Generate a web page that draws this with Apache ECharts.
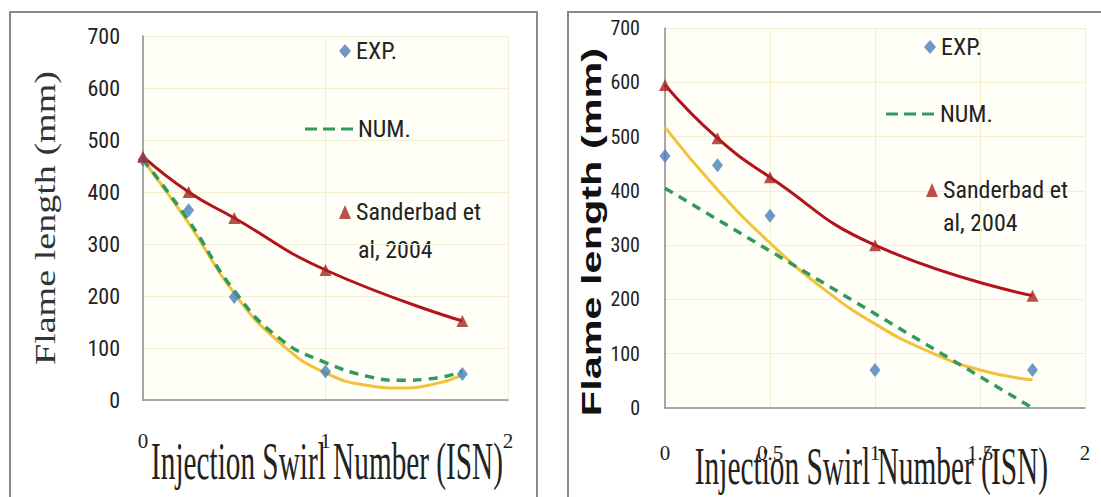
<!DOCTYPE html>
<html>
<head>
<meta charset="utf-8">
<script src="https://cdn.jsdelivr.net/npm/echarts@6/dist/echarts.min.js"></script>
<style>
html,body{margin:0;padding:0;background:#fff;}
#chart{width:1101px;height:497px;}
</style>
</head>
<body>
<div id="chart"></div>
<script>
// ---- data ----
const yTicks = [0, 100, 200, 300, 400, 500, 600, 700];
const leftXTicks = [0, 1, 2];
const rightXTicks = [0, 0.5, 1, 1.5, 2];

const leftX = [0, 0.25, 0.5, 1, 1.75];
const leftExp = [462, 365, 198, 55, 50];
const leftSand = [468, 400, 350, 250, 152];
const leftNumX = [0, 0.25, 0.5, 0.75, 1, 1.25, 1.4, 1.6, 1.75];
const leftNum = [462, 345, 210, 118, 72, 44, 38, 42, 55];
const leftFitX = [0, 0.25, 0.5, 0.75, 1, 1.25, 1.4, 1.6, 1.75];
const leftFit = [462, 340, 205, 110, 52, 27, 23, 31, 48];

const rightX = [0, 0.25, 0.5, 1, 1.75];
const rightExp = [464, 447, 354, 70, 70];
const rightSand = [595, 497, 425, 300, 207];
const rightNumX = [0, 1.75];
const rightNum = [405, 0];
const rightFitX = [0, 0.25, 0.5, 0.75, 1, 1.25, 1.5, 1.75];
const rightFit = [517, 402, 304, 221, 155, 105, 70, 52];

const xTitle = 'Injection Swirl Number (ISN)';
const yTitle = 'Flame length (mm)';
const legendNames = ['EXP.', 'NUM.', 'Sanderbad et al, 2004'];

// ---- styles ----
const C_BLUE = '#4a7ebb', C_TRI = '#a8261b', C_RED = '#b3131d', C_YEL = '#f2c23a', C_GRN = '#2f9a5c';
const NARROW = "'Liberation Sans Narrow', 'Roboto Condensed', 'Open Sans', sans-serif";
const SERIF = "'Liberation Serif', 'DejaVu Serif', serif";
const DASH_ICON = 'path://M0,0h12v3h-12z M18,0h12v3h-12z M36,0h12v3h-12z';
const zip = (xs, ys) => xs.map((x, i) => [x, ys[i]]);

function xAxisCfg(grid, ticks, margin) {
  return {
    type: 'value', gridIndex: grid, min: ticks[0], max: ticks[ticks.length - 1],
    interval: ticks[1] - ticks[0],
    axisLine: { show: true, onZero: false, lineStyle: { color: '#8c8c8c', width: 1.5 } },
    axisTick: { show: false },
    axisLabel: { margin: margin, fontFamily: SERIF, fontSize: 21, color: '#222' },
    splitLine: { show: true, lineStyle: { color: '#f1f1d2', width: 1 } }
  };
}
function yAxisCfg(grid, size, margin) {
  return {
    type: 'value', gridIndex: grid, min: yTicks[0], max: yTicks[yTicks.length - 1],
    interval: yTicks[1] - yTicks[0],
    axisLine: { show: true, onZero: false, lineStyle: { color: '#8c8c8c', width: 1.5 } },
    axisTick: { show: false },
    axisLabel: { margin: margin, fontFamily: NARROW, fontSize: size, color: '#222' },
    splitLine: { show: true, lineStyle: { color: '#f1f1d2', width: 1 } }
  };
}
function fitLine(xi, yi, data, color) {
  return { type: 'line', xAxisIndex: xi, yAxisIndex: yi, data: data, smooth: true, symbol: 'none',
    lineStyle: { color: color, width: 3 }, itemStyle: { color: color }, silent: true, z: 2 };
}
function numLine(xi, yi, data, smooth) {
  return { name: legendNames[1], type: 'line', xAxisIndex: xi, yAxisIndex: yi, data: data, smooth: smooth,
    symbol: 'none', lineStyle: { color: C_GRN, width: 3.5, type: [9, 7] }, itemStyle: { color: C_GRN }, z: 3 };
}
function expPts(xi, yi, data) {
  return { name: legendNames[0], type: 'scatter', xAxisIndex: xi, yAxisIndex: yi, data: data,
    symbol: 'diamond', symbolSize: [11, 14], itemStyle: { color: C_BLUE }, z: 4 };
}
function sandPts(xi, yi, data) {
  return { name: legendNames[2], type: 'scatter', xAxisIndex: xi, yAxisIndex: yi, data: data,
    symbol: 'triangle', symbolSize: [12, 12], itemStyle: { color: C_TRI }, z: 4 };
}
function legend(name, left, cy, w, h, icon) {
  const item = icon ? { name: name, icon: icon, itemStyle: { color: C_GRN } } : name;
  return {
    data: [item], left: left, top: cy - 12, padding: 0, itemWidth: w, itemHeight: h,
    selectedMode: false,
    formatter: n => n === legendNames[2] ? 'Sanderbad et' : n,
    textStyle: { fontFamily: NARROW, fontSize: 24, color: '#222', lineHeight: 24 }
  };
}

const chart = echarts.init(document.getElementById('chart'), null, { renderer: 'svg' });
chart.setOption({
  animation: false,
  backgroundColor: '#fff',
  grid: [
    { left: 143, top: 36, width: 365, height: 364, show: true, backgroundColor: '#fffff7', borderWidth: 0 },
    { left: 665, top: 28, width: 420, height: 380, show: true, backgroundColor: '#fffff7', borderWidth: 0 }
  ],
  xAxis: [xAxisCfg(0, leftXTicks, 30), xAxisCfg(1, rightXTicks, 34)],
  yAxis: [yAxisCfg(0, 22, 23), yAxisCfg(1, 20, 25)],
  legend: [
    legend(legendNames[0], 339, 51, 12, 14),
    legend(legendNames[1], 305, 129, 48, 3, DASH_ICON),
    legend(legendNames[2], 339, 212, 12, 14),
    legend(legendNames[0], 924, 47, 12, 14),
    legend(legendNames[1], 886, 114, 50, 3, DASH_ICON),
    legend(legendNames[2], 926, 190, 12, 14)
  ],
  series: [
    fitLine(0, 0, zip(leftX, leftSand), C_RED),
    fitLine(0, 0, zip(leftFitX, leftFit), C_YEL),
    numLine(0, 0, zip(leftNumX, leftNum), true),
    expPts(0, 0, zip(leftX, leftExp)),
    sandPts(0, 0, zip(leftX, leftSand)),
    fitLine(1, 1, zip(rightX, rightSand), C_RED),
    fitLine(1, 1, zip(rightFitX, rightFit), C_YEL),
    numLine(1, 1, zip(rightNumX, rightNum), false),
    expPts(1, 1, zip(rightX, rightExp)),
    sandPts(1, 1, zip(rightX, rightSand))
  ],
  graphic: [
    { type: 'rect', shape: { x: 10, y: 12, width: 527, height: 520 }, style: { fill: 'none', stroke: '#8a8a8a', lineWidth: 2 }, z: -10 },
    { type: 'rect', shape: { x: 568, y: 12, width: 540, height: 520 }, style: { fill: 'none', stroke: '#8a8a8a', lineWidth: 2 }, z: -10 },
    { type: 'text', x: 358, y: 250, style: { text: 'al, 2004', fontFamily: NARROW, fontSize: 24, fill: '#222', align: 'left', verticalAlign: 'middle' } },
    { type: 'text', x: 943, y: 223, style: { text: 'al, 2004', fontFamily: NARROW, fontSize: 24, fill: '#222', align: 'left', verticalAlign: 'middle' } },
    { type: 'text', x: 327, y: 461, scaleX: 0.563, style: { text: xTitle, fontFamily: SERIF, fontSize: 52, fill: '#222', align: 'center', verticalAlign: 'middle' }, z: 10 },
    { type: 'text', x: 1048, y: 466, scaleX: 0.565, style: { text: xTitle, fontFamily: SERIF, fontSize: 52, fill: '#222', align: 'right', verticalAlign: 'middle' }, z: 10 },
    { type: 'text', x: 45, y: 218, rotation: Math.PI / 2, scaleX: 1.27, style: { text: yTitle, fontFamily: SERIF, fontSize: 30, fill: '#333', align: 'center', verticalAlign: 'middle' } },
    { type: 'text', x: 591, y: 232, rotation: Math.PI / 2, scaleX: 1.48, style: { text: yTitle, fontFamily: "'Liberation Sans', Arial, sans-serif", fontWeight: 'bold', fontSize: 28, fill: '#111', align: 'center', verticalAlign: 'middle' } }
  ]
});
</script>
</body>
</html>
